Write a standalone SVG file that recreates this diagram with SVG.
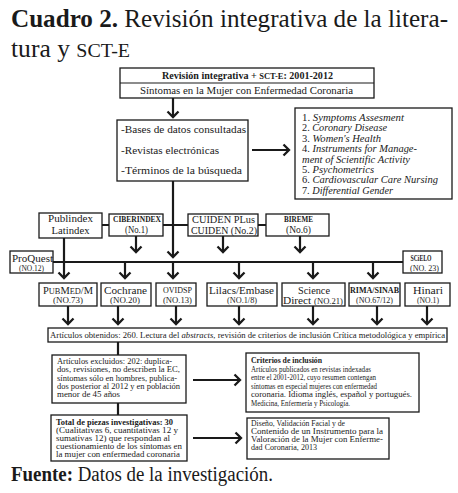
<svg xmlns="http://www.w3.org/2000/svg" width="458" height="493" viewBox="0 0 458 493">
<style>
.box{fill:#fff;stroke:#1a1a1a;stroke-width:1.3}
.t{font-family:"Liberation Serif","Times New Roman",serif;fill:#1a1a1a}
.m{text-anchor:middle}
.c{stroke:#1a1a1a;stroke-width:2.2;fill:none}
.s{font-size:8.4px}
</style>
<defs>
<marker id="ah" markerUnits="userSpaceOnUse" markerWidth="14" markerHeight="14" viewBox="0 0 14 14" refX="7" refY="7" orient="auto">
<path d="M1.5,1.5 L7,7 L1.5,12.5" fill="none" stroke="#1a1a1a" stroke-width="2.3"/>
</marker>
</defs>
<rect width="458" height="493" fill="#fff"/>
<g id="title">
<text class="t" x="11" y="27" font-size="25" textLength="437" lengthAdjust="spacingAndGlyphs"><tspan font-weight="bold">Cuadro 2.</tspan> Revisión integrativa de la litera-</text>
<text class="t" x="11" y="57" font-size="25" textLength="119" lengthAdjust="spacingAndGlyphs">tura y <tspan font-size="19.5">SCT-E</tspan></text>
</g>
<g id="connectors">
<line class="c" x1="173" y1="98" x2="173" y2="117" marker-end="url(#ah)"/>
<line class="c" x1="252" y1="150" x2="289" y2="150" marker-end="url(#ah)"/>
<line class="c" x1="173" y1="181" x2="173" y2="257" marker-end="url(#ah)"/>
<line class="c" x1="102" y1="225" x2="266" y2="225"/>
<line class="c" x1="136" y1="236" x2="136" y2="252" marker-end="url(#ah)"/>
<line class="c" x1="223" y1="236" x2="223" y2="252" marker-end="url(#ah)"/>
<line class="c" x1="300" y1="236" x2="300" y2="252" marker-end="url(#ah)"/>
<line class="c" x1="53" y1="262" x2="403" y2="262"/>
<line class="c" x1="64" y1="238" x2="64" y2="278" marker-end="url(#ah)"/>
<line class="c" x1="125" y1="262" x2="125" y2="278" marker-end="url(#ah)"/>
<line class="c" x1="173" y1="262" x2="173" y2="278" marker-end="url(#ah)"/>
<line class="c" x1="239" y1="262" x2="239" y2="278" marker-end="url(#ah)"/>
<line class="c" x1="313" y1="262" x2="313" y2="278" marker-end="url(#ah)"/>
<line class="c" x1="373" y1="262" x2="373" y2="278" marker-end="url(#ah)"/>
<line class="c" x1="68" y1="306" x2="68" y2="324" marker-end="url(#ah)"/>
<line class="c" x1="118" y1="306" x2="118" y2="324" marker-end="url(#ah)"/>
<line class="c" x1="176" y1="306" x2="176" y2="324" marker-end="url(#ah)"/>
<line class="c" x1="239" y1="306" x2="239" y2="324" marker-end="url(#ah)"/>
<line class="c" x1="313" y1="306" x2="313" y2="324" marker-end="url(#ah)"/>
<line class="c" x1="377" y1="306" x2="377" y2="324" marker-end="url(#ah)"/>
<line class="c" x1="427" y1="306" x2="427" y2="324" marker-end="url(#ah)"/>
<line class="c" x1="118" y1="342" x2="118" y2="355"/>
<line class="c" x1="193" y1="380" x2="240" y2="380" marker-end="url(#ah)"/>
<line class="c" x1="118" y1="403" x2="118" y2="415"/>
<line class="c" x1="193" y1="438" x2="241" y2="438" marker-end="url(#ah)"/>
</g>
<g id="n-top">
<rect class="box" x="120" y="68" width="254" height="30"/>
<line x1="120" y1="83" x2="374" y2="83" stroke="#1a1a1a" stroke-width="1.2"/>
<text class="t m" x="247.5" y="79" font-size="9.5" font-weight="bold" textLength="171" lengthAdjust="spacingAndGlyphs">Revisión integrativa + <tspan font-size="8">SCT-E</tspan>: 2001-2012</text>
<text class="t m" x="246.5" y="93.5" font-size="10.5" textLength="213" lengthAdjust="spacingAndGlyphs">Síntomas en la Mujer con Enfermedad Coronaria</text>
</g>
<g id="n-bases">
<rect class="box" x="117" y="120" width="131" height="61"/>
<text class="t" x="121" y="133" font-size="11" textLength="125" lengthAdjust="spacingAndGlyphs">-Bases de datos consultadas</text>
<text class="t" x="121" y="154" font-size="11" textLength="98" lengthAdjust="spacingAndGlyphs">-Revistas electrónicas</text>
<text class="t" x="121" y="174" font-size="11" textLength="121" lengthAdjust="spacingAndGlyphs">-Términos de la búsqueda</text>
</g>
<g id="n-terms" font-size="10">
<rect class="box" x="295" y="108" width="157" height="91"/>
<text class="t" x="302" y="121" textLength="102" lengthAdjust="spacingAndGlyphs">1. <tspan font-style="italic">Symptoms Assesment</tspan></text>
<text class="t" x="302" y="131.4" textLength="85" lengthAdjust="spacingAndGlyphs">2. <tspan font-style="italic">Coronary Disease</tspan></text>
<text class="t" x="302" y="141.8" textLength="79" lengthAdjust="spacingAndGlyphs">3. <tspan font-style="italic">Women's Health</tspan></text>
<text class="t" x="302" y="152.2" textLength="115" lengthAdjust="spacingAndGlyphs">4. <tspan font-style="italic">Instruments for Manage-</tspan></text>
<text class="t" x="302" y="162.6" font-style="italic" textLength="108" lengthAdjust="spacingAndGlyphs">ment of Scientific Activity</text>
<text class="t" x="302" y="173" textLength="72" lengthAdjust="spacingAndGlyphs">5. <tspan font-style="italic">Psychometrics</tspan></text>
<text class="t" x="302" y="183.4" textLength="136" lengthAdjust="spacingAndGlyphs">6. <tspan font-style="italic">Cardiovascular Care Nursing</tspan></text>
<text class="t" x="302" y="193.8" textLength="91" lengthAdjust="spacingAndGlyphs">7. <tspan font-style="italic">Differential Gender</tspan></text>
</g>
<g id="n-publindex">
<rect class="box" x="39" y="213" width="63" height="25"/>
<text class="t m" x="70.5" y="222" font-size="11" textLength="45" lengthAdjust="spacingAndGlyphs">Publindex</text>
<text class="t m" x="70.5" y="234" font-size="11" textLength="38" lengthAdjust="spacingAndGlyphs">Latindex</text>
</g>
<g id="n-ciberindex">
<rect class="box" x="109" y="214" width="54" height="22"/>
<text class="t m" x="137" y="222" font-size="7.8" font-weight="bold" textLength="48" lengthAdjust="spacingAndGlyphs">CIBERINDEX</text>
<text class="t m" x="136.5" y="233" font-size="10" textLength="23" lengthAdjust="spacingAndGlyphs">(No.1)</text>
</g>
<g id="n-cuiden">
<rect class="box" x="188" y="214" width="70" height="22"/>
<text class="t m" x="223.5" y="223" font-size="10.5" textLength="63" lengthAdjust="spacingAndGlyphs">CUIDEN PLus</text>
<text class="t m" x="224" y="234" font-size="10.5" textLength="66" lengthAdjust="spacingAndGlyphs">CUIDEN (No.2)</text>
</g>
<g id="n-bireme">
<rect class="box" x="266" y="214" width="63" height="22"/>
<text class="t m" x="298.5" y="222" font-size="7.8" font-weight="bold" textLength="29" lengthAdjust="spacingAndGlyphs">BIREME</text>
<text class="t m" x="298.5" y="233" font-size="10" textLength="25" lengthAdjust="spacingAndGlyphs">(No.6)</text>
</g>
<g id="n-proquest">
<rect class="box" x="10" y="251" width="43" height="22"/>
<text class="t m" x="32.5" y="262" font-size="10.5" textLength="41" lengthAdjust="spacingAndGlyphs">ProQuest</text>
<text class="t m" x="31.5" y="271" font-size="8" textLength="25" lengthAdjust="spacingAndGlyphs">(NO.12)</text>
</g>
<g id="n-scielo">
<rect class="box" x="403" y="251" width="39" height="22"/>
<text class="t m" x="421" y="261" font-size="7.5" font-weight="bold" textLength="21" lengthAdjust="spacingAndGlyphs">SCiELO</text>
<text class="t m" x="424.5" y="271" font-size="8" textLength="29" lengthAdjust="spacingAndGlyphs">(NO. 23)</text>
</g>
<g id="n-pubmed">
<rect class="box" x="39" y="283" width="58" height="23"/>
<text class="t m" x="68" y="293.5" font-size="10" textLength="50" lengthAdjust="spacingAndGlyphs">P<tspan font-size="8">UB</tspan>M<tspan font-size="8">ED</tspan>/M</text>
<text class="t m" x="68" y="303" font-size="8" textLength="30" lengthAdjust="spacingAndGlyphs">(NO.73)</text>
</g>
<g id="n-cochrane">
<rect class="box" x="101" y="283" width="50" height="23"/>
<text class="t m" x="125.5" y="294" font-size="10.5" textLength="43" lengthAdjust="spacingAndGlyphs">Cochrane</text>
<text class="t m" x="125" y="303" font-size="8" textLength="30" lengthAdjust="spacingAndGlyphs">(NO.20)</text>
</g>
<g id="n-ovidsp">
<rect class="box" x="156" y="283" width="40" height="23"/>
<text class="t m" x="177.5" y="293" font-size="7.8" textLength="29" lengthAdjust="spacingAndGlyphs">OVIDSP</text>
<text class="t m" x="177.5" y="303" font-size="8" textLength="29" lengthAdjust="spacingAndGlyphs">(NO.13)</text>
</g>
<g id="n-lilacs">
<rect class="box" x="207" y="283" width="70" height="23"/>
<text class="t m" x="241.5" y="294" font-size="10.5" textLength="65" lengthAdjust="spacingAndGlyphs">Lilacs/Embase</text>
<text class="t m" x="242" y="303" font-size="8" textLength="30" lengthAdjust="spacingAndGlyphs">(NO.1/8)</text>
</g>
<g id="n-science">
<rect class="box" x="282" y="283" width="63" height="23"/>
<text class="t m" x="314" y="294" font-size="10.5" textLength="32" lengthAdjust="spacingAndGlyphs">Science</text>
<text class="t m" x="313" y="303.5" font-size="10.5" textLength="60" lengthAdjust="spacingAndGlyphs">Direct <tspan font-size="8">(NO.21)</tspan></text>
</g>
<g id="n-rima">
<rect class="box" x="349" y="283" width="51" height="23"/>
<text class="t m" x="374.5" y="293" font-size="7.8" font-weight="bold" textLength="49" lengthAdjust="spacingAndGlyphs">RIMA/SINAB</text>
<text class="t m" x="374.5" y="303" font-size="8" textLength="37" lengthAdjust="spacingAndGlyphs">(NO.67/12)</text>
</g>
<g id="n-hinari">
<rect class="box" x="405" y="283" width="45" height="23"/>
<text class="t m" x="428" y="294" font-size="10.5" textLength="30" lengthAdjust="spacingAndGlyphs">Hinari</text>
<text class="t m" x="428" y="303" font-size="8" textLength="22" lengthAdjust="spacingAndGlyphs">(NO.1)</text>
</g>
<g id="n-articulos">
<rect class="box" x="48" y="328" width="399" height="14"/>
<text class="t s" x="50" y="338.3" textLength="395" lengthAdjust="spacingAndGlyphs">Artículos obtenidos: 260. Lectura del <tspan font-style="italic">abstracts</tspan>, revisión de criterios de inclusión Crítica metodológica y empírica</text>
</g>
<g id="n-excluidos">
<rect class="box" x="52" y="355" width="134" height="48"/>
<text class="t s" x="57" y="364" textLength="115" lengthAdjust="spacingAndGlyphs">Artículos excluidos: 202: duplica-</text>
<text class="t s" x="57" y="372.3" textLength="123" lengthAdjust="spacingAndGlyphs">dos, revisiones, no describen la EC,</text>
<text class="t s" x="57" y="380.6" textLength="120" lengthAdjust="spacingAndGlyphs">síntomas sólo en hombres, publica-</text>
<text class="t s" x="57" y="388.9" textLength="123" lengthAdjust="spacingAndGlyphs">dos posterior al 2012 y en población</text>
<text class="t s" x="57" y="397.2" textLength="63" lengthAdjust="spacingAndGlyphs">menor de 45 años</text>
</g>
<g id="n-criterios">
<rect class="box" x="246" y="353" width="173" height="59"/>
<text class="t s" x="251" y="363" font-weight="bold" textLength="71" lengthAdjust="spacingAndGlyphs">Criterios de inclusión</text>
<text class="t s" x="251" y="371.5" textLength="120" lengthAdjust="spacingAndGlyphs">Artículos publicados en revistas indexadas</text>
<text class="t s" x="251" y="380" textLength="125" lengthAdjust="spacingAndGlyphs">entre el 2001-2012, cuyo resumen contengan</text>
<text class="t s" x="251" y="388.5" textLength="126" lengthAdjust="spacingAndGlyphs">síntomas en especial mujeres con enfermedad</text>
<text class="t s" x="251" y="397" textLength="161" lengthAdjust="spacingAndGlyphs">coronaria. Idioma inglés, español y portugués.</text>
<text class="t s" x="251" y="405.5" textLength="99" lengthAdjust="spacingAndGlyphs">Medicina, Enfermería y Psicología.</text>
</g>
<g id="n-total">
<rect class="box" x="51" y="415" width="136" height="46"/>
<text class="t s" x="56" y="425" font-weight="bold" textLength="117" lengthAdjust="spacingAndGlyphs">Total de piezas investigativas: 30</text>
<text class="t s" x="56" y="433" textLength="122" lengthAdjust="spacingAndGlyphs">(Cualitativas 6, cuantitativas 12 y</text>
<text class="t s" x="56" y="441" textLength="114" lengthAdjust="spacingAndGlyphs">sumativas 12) que respondan al</text>
<text class="t s" x="56" y="449" textLength="126" lengthAdjust="spacingAndGlyphs">cuestionamiento de los síntomas en</text>
<text class="t s" x="56" y="457" textLength="124" lengthAdjust="spacingAndGlyphs">la mujer con enfermedad coronaria</text>
</g>
<g id="n-diseno">
<rect class="box" x="247" y="418" width="142" height="41"/>
<text class="t s" x="251" y="426" textLength="94" lengthAdjust="spacingAndGlyphs">Diseño, Validación Facial y de</text>
<text class="t s" x="251" y="434" textLength="132" lengthAdjust="spacingAndGlyphs">Contenido de un Instrumento para la</text>
<text class="t s" x="251" y="442" textLength="132" lengthAdjust="spacingAndGlyphs">Valoración de la Mujer con Enferme-</text>
<text class="t s" x="251" y="450" textLength="66" lengthAdjust="spacingAndGlyphs">dad Coronaria, 2013</text>
</g>
<g id="source">
<text class="t" x="11" y="481" font-size="20" textLength="262" lengthAdjust="spacingAndGlyphs"><tspan font-weight="bold">Fuente:</tspan> Datos de la investigación.</text>
</g>
</svg>
